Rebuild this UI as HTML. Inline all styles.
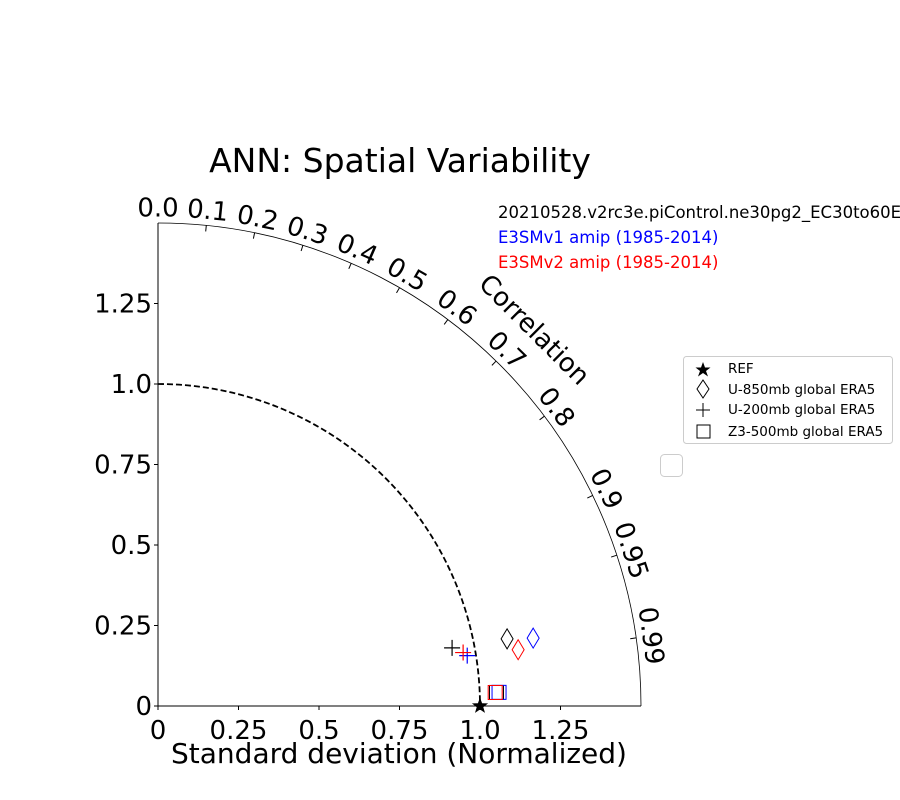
<!DOCTYPE html>
<html><head><meta charset="utf-8"><style>
body{margin:0;background:#fff}
svg{display:block;font-family:"DejaVu Sans","Liberation Sans",sans-serif}
</style></head><body>
<svg id="chart" width="900" height="800" viewBox="0 0 900 800">
<rect width="900" height="800" fill="#fff"/>
<text x="400" y="172" font-size="33" text-anchor="middle">ANN: Spatial Variability</text>
<text x="498" y="218" font-size="16.5">20210528.v2rc3e.piControl.ne30pg2_EC30to60E2r2</text>
<text x="498" y="243" font-size="16.5" fill="blue">E3SMv1 amip (1985-2014)</text>
<text x="498" y="268" font-size="16.5" fill="red">E3SMv2 amip (1985-2014)</text>
<g id="axes"></g>
<g id="marks"></g>
<g>
<rect x="683.5" y="356.5" width="209" height="87" rx="3" fill="#fff" stroke="#ccc"/>
<polygon points="703,362 705,367.5 710.5,367.5 706,371 708,376.5 703,373 698,376.5 700,371 695.5,367.5 701,367.5" fill="#000"/>
<text x="728" y="373" font-size="13.5">REF</text>
<polygon points="703,380 709,389 703,398 697,389" fill="none" stroke="#000"/>
<text x="728" y="394" font-size="13.5">U-850mb global ERA5</text>
<path d="M696,410H710M703,403V417" stroke="#000"/>
<text x="728" y="414" font-size="13.5">U-200mb global ERA5</text>
<rect x="697" y="425" width="13" height="13" fill="none" stroke="#000"/>
<text x="728" y="436" font-size="13.5">Z3-500mb global ERA5</text>
</g>
<rect x="660.5" y="454.5" width="22" height="22" rx="4" fill="#fff" stroke="#ccc"/>
</svg>
<script>
const stdTicks=[0,0.25,0.5,0.75,1.0,1.25];
const stdTickLabels=["0","0.25","0.5","0.75","1.0","1.25"];
const corrTicks=[0.0,0.1,0.2,0.3,0.4,0.5,0.6,0.7,0.8,0.9,0.95,0.99];
const corrTickLabels=["0.0","0.1","0.2","0.3","0.4","0.5","0.6","0.7","0.8","0.9","0.95","0.99"];
const seriesNames=["U-850mb","U-200mb","Z3-500mb"];
const seriesMarkers=["diamond","plus","square"];
const testStd=[1.104,0.931,1.052];
const testCorr=[0.982,0.981,0.9992];
const v1Std=[1.184,0.973,1.060];
const v1Corr=[0.984,0.987,0.9992];
const v2Std=[1.132,0.962,1.048];
const v2Corr=[0.988,0.985,0.9992];
const refStd=1.0, maxStd=1.5;

const NS="http://www.w3.org/2000/svg";
const ox=158, oy=706, sc=322;
function px(s,c){return ox+s*c*sc;}
function py(s,c){return oy-s*Math.sqrt(Math.max(0,1-c*c))*sc;}
function mk(tag,at,parent){const e=document.createElementNS(NS,tag);for(const k in at)e.setAttribute(k,at[k]);parent.appendChild(e);return e;}
const axes=document.getElementById('axes'), marks=document.getElementById('marks');

let e=mk('line',{x1:ox,y1:oy,x2:ox,y2:oy-maxStd*sc,stroke:'#000'},axes);


e=mk('line',{x1:ox,y1:oy,x2:ox+maxStd*sc,y2:oy,stroke:'#000'},axes);


const R=maxStd*sc;
e=mk('path',{d:`M${ox},${oy-R}A${R},${R} 0 0 1 ${ox+R},${oy}`,fill:'none',stroke:'#000','stroke-width':0.8},axes);


const r1=refStd*sc;
e=mk('path',{d:`M${ox},${oy-r1}A${r1},${r1} 0 0 1 ${ox+r1},${oy}`,fill:'none',stroke:'#000','stroke-width':1.8,'stroke-dasharray':'6,3'},axes);



stdTicks.forEach((v,i)=>{
  const y=oy-v*sc, x=ox+v*sc;
  mk('line',{x1:ox-4,y1:y,x2:ox,y2:y,stroke:'#000'},axes);
  mk('line',{x1:x,y1:oy,x2:x,y2:oy+4,stroke:'#000'},axes);
  let t=mk('text',{x:ox-6,y:y+9,'font-size':26,'text-anchor':'end'},axes);
  t.textContent=stdTickLabels[i];
  
  
  t=mk('text',{x:x,y:oy+33,'font-size':26,'text-anchor':'middle'},axes);
  t.textContent=stdTickLabels[i];
  
  
});
corrTicks.forEach((c,i)=>{
  const th=Math.acos(c), cs=Math.cos(th), sn=Math.sin(th);
  mk('line',{x1:ox+R*cs,y1:oy-R*sn,x2:ox+(R-6)*cs,y2:oy-(R-6)*sn,stroke:'#000'},axes);
  const rl=R+14, lx=ox+rl*cs, ly=oy-rl*sn, rot=90-th*180/Math.PI;
  const t=mk('text',{x:lx,y:ly,'font-size':26,'text-anchor':'middle','dominant-baseline':'middle',transform:`rotate(${rot} ${lx} ${ly})`},axes);
  t.textContent=corrTickLabels[i];
  
  
});
{
  const th=Math.PI/4, rl=R+48, lx=ox+rl*Math.cos(th), ly=oy-rl*Math.sin(th);
  const t=mk('text',{x:lx,y:ly,'font-size':26,'text-anchor':'middle','dominant-baseline':'middle',transform:`rotate(45 ${lx} ${ly})`},axes);
  t.textContent='Correlation';
  
  
}
{
  const t=mk('text',{x:399,y:763,'font-size':28,'text-anchor':'middle'},axes);
  t.textContent='Standard deviation (Normalized)';
  
  
}
function marker(type,x,y,col,name){
  let m;
  if(type==='diamond') m=mk('polygon',{points:`${x},${y-10} ${x+6},${y} ${x},${y+10} ${x-6},${y}`,fill:'none',stroke:col},marks);
  else if(type==='plus') m=mk('path',{d:`M${x-8},${y}H${x+8}M${x},${y-8}V${y+8}`,stroke:col,'stroke-width':1.2},marks);
  else m=mk('rect',{x:x-7,y:y-7,width:14,height:14,fill:'none',stroke:col},marks);
  
  
}
seriesNames.forEach((n,i)=>{
  const k=n.toLowerCase();
  marker(seriesMarkers[i],px(testStd[i],testCorr[i]),py(testStd[i],testCorr[i]),'#000',k+'-test-marker');
  marker(seriesMarkers[i],px(v1Std[i],v1Corr[i]),py(v1Std[i],v1Corr[i]),'blue',k+'-e3smv1-marker');
  marker(seriesMarkers[i],px(v2Std[i],v2Corr[i]),py(v2Std[i],v2Corr[i]),'red',k+'-e3smv2-marker');
});
{
  const x=px(refStd,1), y=py(refStd,1);
  let pts=[];
  for(let j=0;j<10;j++){const a=-Math.PI/2+j*Math.PI/5, r=j%2?3.5:8.5;pts.push((x+r*Math.cos(a)).toFixed(1)+','+(y+r*Math.sin(a)).toFixed(1));}
  const s=mk('polygon',{points:pts.join(' '),fill:'#000'},marks);
  
  
}
</script>
</body></html>
